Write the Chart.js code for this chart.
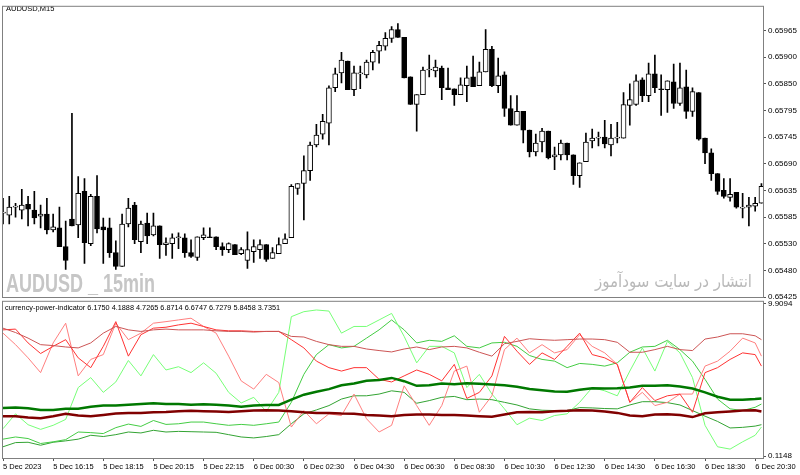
<!DOCTYPE html>
<html>
<head>
<meta charset="utf-8">
<script src="https://cdn.jsdelivr.net/npm/chart.js@4.4.0/dist/chart.umd.min.js"></script>
<style>
  html, body { margin: 0; padding: 0; background: #fff; width: 800px; height: 475px; overflow: hidden; }
  #priceBox { position: absolute; left: 0; top: 0; }
  #powerBox { position: absolute; left: 0; top: 295px; }
</style>
</head>
<body>
<canvas id="priceBox" width="800" height="305"></canvas>
<canvas id="powerBox" width="800" height="180"></canvas>
<script>
// AUDUSD M15 candles, one per bar, oldest first
var openPrice = [
  0.65595, 0.65591, 0.65607, 0.65601, 0.65613, 0.65601, 0.65589, 0.65593, 0.65561, 0.65565,
  0.65527, 0.65583, 0.65571, 0.65639, 0.65533, 0.65629, 0.65567, 0.65565, 0.65515, 0.65487,
  0.65573, 0.65611, 0.65537, 0.65575, 0.65551, 0.65569, 0.65531, 0.65533, 0.65545, 0.65545,
  0.65515, 0.65505, 0.65545, 0.65547, 0.65547, 0.65527, 0.65521, 0.65531, 0.65513, 0.65499,
  0.65517, 0.65521, 0.65531, 0.65503, 0.65513, 0.65533, 0.65545, 0.65645, 0.65655, 0.65681,
  0.65733, 0.65755, 0.65777, 0.65849, 0.65879, 0.65903, 0.65845, 0.65877, 0.65875, 0.65901,
  0.65923, 0.65933, 0.65949, 0.65967, 0.65951, 0.65871, 0.65815, 0.65835, 0.65885, 0.65883,
  0.65889, 0.65849, 0.65847, 0.65835, 0.65853, 0.65871, 0.65853, 0.65881, 0.65927, 0.65853,
  0.65875, 0.65807, 0.65773, 0.65801, 0.65763, 0.65719, 0.65739, 0.65761, 0.65709, 0.65713,
  0.65737, 0.65713, 0.65671, 0.65699, 0.65741, 0.65747, 0.65749, 0.65733, 0.65747, 0.65747,
  0.65813, 0.65815, 0.65865, 0.65833, 0.65877, 0.65847, 0.65845, 0.65861, 0.65817, 0.65851,
  0.65801, 0.65839, 0.65747, 0.65717, 0.65675, 0.65641, 0.65627, 0.65637, 0.65605, 0.65607,
  0.65609, 0.65615
];
var highPrice = [
  0.65625, 0.65629, 0.65615, 0.65643, 0.65629, 0.65639, 0.65611, 0.65625, 0.65593, 0.65607,
  0.65579, 0.65797, 0.65669, 0.65665, 0.65633, 0.65671, 0.65585, 0.65585, 0.65539, 0.65593,
  0.65625, 0.65617, 0.65579, 0.65595, 0.65595, 0.65569, 0.65545, 0.65553, 0.65555, 0.65553,
  0.65541, 0.65547, 0.65565, 0.65565, 0.65547, 0.65535, 0.65535, 0.65531, 0.65525, 0.65557,
  0.65541, 0.65541, 0.65531, 0.65525, 0.65545, 0.65553, 0.65653, 0.65655, 0.65711, 0.65739,
  0.65775, 0.65795, 0.65853, 0.65889, 0.65921, 0.65903, 0.65893, 0.65893, 0.65905, 0.65925,
  0.65943, 0.65961, 0.65973, 0.65979, 0.65951, 0.65871, 0.65835, 0.65891, 0.65915, 0.65905,
  0.65893, 0.65889, 0.65847, 0.65869, 0.65893, 0.65913, 0.65901, 0.65967, 0.65933, 0.65909,
  0.65881, 0.65833, 0.65833, 0.65801, 0.65763, 0.65755, 0.65767, 0.65761, 0.65729, 0.65743,
  0.65737, 0.65713, 0.65697, 0.65757, 0.65765, 0.65759, 0.65783, 0.65775, 0.65779, 0.65839,
  0.65857, 0.65875, 0.65869, 0.65899, 0.65915, 0.65875, 0.65863, 0.65897, 0.65899, 0.65885,
  0.65849, 0.65839, 0.65747, 0.65725, 0.65675, 0.65665, 0.65665, 0.65637, 0.65635, 0.65627,
  0.65627, 0.65655
];
var lowPrice = [
  0.65573, 0.65573, 0.65587, 0.65583, 0.65569, 0.65573, 0.65565, 0.65553, 0.65557, 0.65527,
  0.65481, 0.65569, 0.65545, 0.65493, 0.65529, 0.65555, 0.65493, 0.65505, 0.65481, 0.65487,
  0.65567, 0.65533, 0.65515, 0.65533, 0.65549, 0.65503, 0.65509, 0.65503, 0.65523, 0.65505,
  0.65505, 0.65499, 0.65541, 0.65545, 0.65521, 0.65509, 0.65515, 0.65511, 0.65511, 0.65483,
  0.65495, 0.65503, 0.65497, 0.65503, 0.65513, 0.65533, 0.65545, 0.65633, 0.65581, 0.65661,
  0.65729, 0.65745, 0.65733, 0.65841, 0.65859, 0.65845, 0.65833, 0.65847, 0.65869, 0.65885,
  0.65899, 0.65925, 0.65941, 0.65951, 0.65869, 0.65815, 0.65761, 0.65835, 0.65871, 0.65871,
  0.65825, 0.65845, 0.65813, 0.65835, 0.65821, 0.65851, 0.65853, 0.65881, 0.65851, 0.65839,
  0.65791, 0.65773, 0.65773, 0.65737, 0.65709, 0.65711, 0.65719, 0.65705, 0.65683, 0.65703,
  0.65703, 0.65653, 0.65647, 0.65699, 0.65727, 0.65731, 0.65727, 0.65711, 0.65737, 0.65747,
  0.65773, 0.65813, 0.65821, 0.65821, 0.65839, 0.65793, 0.65799, 0.65807, 0.65813, 0.65787,
  0.65791, 0.65743, 0.65695, 0.65661, 0.65633, 0.65625, 0.65619, 0.65605, 0.65585, 0.65569,
  0.65599, 0.65615
];
var closePrice = [
  0.65596, 0.65607, 0.65607, 0.65611, 0.65603, 0.65585, 0.65593, 0.65561, 0.65567, 0.65527,
  0.65499, 0.65569, 0.65635, 0.65535, 0.65629, 0.65563, 0.65561, 0.65515, 0.65487, 0.65573,
  0.65605, 0.65541, 0.65573, 0.65549, 0.65569, 0.65531, 0.65535, 0.65545, 0.65545, 0.65515,
  0.65507, 0.65547, 0.65551, 0.65545, 0.65527, 0.65521, 0.65533, 0.65511, 0.65521, 0.65521,
  0.65527, 0.65531, 0.65501, 0.65515, 0.65531, 0.65543, 0.65649, 0.65655, 0.65681, 0.65733,
  0.65753, 0.65781, 0.65849, 0.65877, 0.65905, 0.65845, 0.65879, 0.65877, 0.65901, 0.65921,
  0.65935, 0.65949, 0.65967, 0.65951, 0.65869, 0.65815, 0.65835, 0.65885, 0.65885, 0.65891,
  0.65849, 0.65845, 0.65835, 0.65855, 0.65869, 0.65851, 0.65881, 0.65927, 0.65853, 0.65873,
  0.65807, 0.65773, 0.65801, 0.65763, 0.65719, 0.65737, 0.65761, 0.65707, 0.65713, 0.65737,
  0.65713, 0.65671, 0.65697, 0.65739, 0.65747, 0.65747, 0.65735, 0.65747, 0.65747, 0.65815,
  0.65825, 0.65863, 0.65833, 0.65877, 0.65849, 0.65845, 0.65863, 0.65817, 0.65849, 0.65801,
  0.65841, 0.65745, 0.65717, 0.65675, 0.65639, 0.65629, 0.65633, 0.65607, 0.65605, 0.65611,
  0.65615, 0.65649
];

// price scale labels as printed by the terminal (top to bottom)
var priceLabels = ['0.65965', '0.65900', '0.65850', '0.65795', '0.65745', '0.65690',
                   '0.65635', '0.65585', '0.65530', '0.65480', '0.65425'];

// time axis: bar index of each label and its text
var timeTickBars = [0, 8, 16, 24, 32, 40, 48, 56, 64, 72, 80, 88, 96, 104, 112, 120];
var timeLabels = ['5 Dec 2023', '5 Dec 16:15', '5 Dec 18:15', '5 Dec 20:15', '5 Dec 22:15',
                  '6 Dec 00:30', '6 Dec 02:30', '6 Dec 04:30', '6 Dec 06:30', '6 Dec 08:30',
                  '6 Dec 10:30', '6 Dec 12:30', '6 Dec 14:30', '6 Dec 16:30', '6 Dec 18:30',
                  '6 Dec 20:30'];

// currency power indicator, sampled every second bar
var powerBars = [0, 2, 4, 6, 8, 10, 12, 14, 16, 18, 20, 22, 24, 26, 28, 30, 32, 34, 36, 38,
                 40, 42, 44, 46, 48, 50, 52, 54, 56, 58, 60, 62, 64, 66, 68, 70, 72, 74, 76, 78,
                 80, 82, 84, 86, 88, 90, 92, 94, 96, 98, 100, 102, 104, 106, 108, 110, 112, 114,
                 116, 118, 120, 121];
var powerBrown = [8.34,8.06,7.70,7.28,7.22,7.13,7.07,7.39,8.02,8.45,8.23,8.13,8.23,8.28,8.23,8.23,
  8.23,8.17,8.13,8.13,8.09,8.13,8.13,7.81,7.77,7.49,7.28,7.17,7.17,7.00,6.90,6.81,
  7.00,7.13,6.96,7.13,7.17,7.07,6.79,6.54,7.34,7.49,7.66,7.60,7.56,7.60,7.64,7.64,
  7.60,7.43,6.79,6.79,6.96,7.17,6.96,6.90,7.64,7.77,7.98,7.98,7.85,7.60];
var powerRed = [8.23,8.28,7.39,6.71,7.17,7.60,6.43,5.80,7.17,8.76,6.54,7.92,8.34,8.40,8.55,8.66,
  8.45,8.23,8.17,8.17,8.13,8.13,8.13,7.60,7.07,6.22,5.80,5.58,5.80,5.80,5.05,4.88,
  5.27,5.65,5.37,4.95,6.01,3.82,4.21,5.27,7.81,6.86,6.01,6.75,6.33,7.17,8.02,6.64,
  6.43,6.01,3.57,4.52,3.68,3.99,4.10,2.93,5.48,5.80,6.33,6.75,6.64,5.90];
var powerSalmon = [8.02,7.28,6.43,5.48,7.39,8.66,5.27,6.33,6.64,8.66,7.60,8.02,8.66,8.76,8.87,8.98,
  8.45,8.02,6.54,4.95,4.42,5.37,4.84,1.98,3.04,2.19,2.83,2.72,4.10,2.51,1.66,2.09,
  4.63,3.36,2.09,3.36,5.58,5.90,2.93,3.99,6.96,7.70,6.75,7.28,6.75,6.96,7.92,7.17,
  6.75,6.01,3.57,4.21,3.36,3.57,4.10,4.10,5.90,6.22,6.86,7.70,7.39,6.54];
var powerLime = [1.87,2.83,2.13,1.83,2.09,2.47,4.52,5.16,4.21,4.88,6.26,5.27,6.64,5.65,5.86,5.48,
  6.11,5.44,4.21,3.53,3.89,2.98,4.21,9.08,9.40,9.51,9.44,8.02,8.45,8.45,8.87,9.29,
  7.81,6.11,7.17,7.17,6.75,4.52,5.37,4.10,3.15,2.13,2.55,2.40,2.72,2.83,3.57,4.52,
  4.31,3.99,5.58,7.07,5.58,7.49,6.75,5.16,2.09,0.71,0.56,1.03,1.45,1.98];
var powerGreen = [1.20,1.34,1.24,0.92,1.03,1.17,1.66,1.62,1.56,1.94,2.17,2.02,2.40,2.15,2.19,2.30,
  2.30,2.19,2.09,2.15,2.09,2.19,2.30,3.57,5.37,6.64,7.28,7.07,7.17,7.70,8.23,8.87,
  8.23,7.39,7.56,7.49,7.85,7.17,7.07,7.39,7.43,7.17,6.58,6.33,6.22,5.80,6.07,6.01,
  5.90,6.11,6.79,7.13,7.17,7.56,6.96,6.22,5.05,3.78,3.15,3.04,3.25,3.46];
var powerOlive = [0.71,0.98,1.00,0.81,1.00,1.09,1.20,1.45,1.37,1.49,1.66,1.60,1.77,1.66,1.70,1.68,
  1.66,1.64,1.49,1.34,1.28,1.37,1.49,2.19,2.83,3.08,3.36,3.78,3.99,3.99,4.10,4.31,
  4.21,3.51,3.68,3.89,3.95,3.74,3.78,3.74,3.57,3.40,3.15,3.06,3.04,3.04,3.23,3.21,
  3.17,3.15,3.40,3.61,3.61,3.55,3.40,3.04,2.68,2.34,1.92,1.96,2.04,2.13];
var powerGreenAvg = [3.21,3.23,3.19,3.08,3.08,3.15,3.15,3.29,3.36,3.36,3.42,3.46,3.51,3.46,3.46,3.42,
  3.44,3.42,3.36,3.29,3.36,3.40,3.40,3.74,4.06,4.25,4.42,4.67,4.78,4.95,5.01,5.14,
  4.93,4.63,4.67,4.78,4.74,4.80,4.76,4.71,4.67,4.57,4.42,4.35,4.27,4.25,4.38,4.48,
  4.46,4.48,4.52,4.63,4.63,4.67,4.59,4.46,4.21,3.93,3.74,3.74,3.78,3.82];
var powerRedAvg = [2.68,2.68,2.59,2.55,2.68,2.83,2.72,2.68,2.76,2.85,2.89,2.89,2.93,2.95,3.00,3.02,
  3.00,2.98,2.95,3.00,3.04,3.06,3.04,3.00,2.93,2.89,2.89,2.85,2.83,2.76,2.72,2.68,
  2.76,2.79,2.79,2.76,2.76,2.72,2.68,2.64,2.79,2.93,2.95,2.93,3.00,3.02,3.06,3.04,
  2.98,2.89,2.72,2.68,2.79,2.81,2.76,2.62,2.87,2.93,2.98,3.04,3.06,2.98];
var powerValues = ['6.1750', '4.1888', '4.7265', '6.8714', '6.6747', '6.7279', '5.8458', '3.7351'];

var FONT = 'Liberation Sans';
var BAR_MAX = 121.25;   // right edge of the plot in bar units

function frame(color) {
  return {
    id: 'frame',
    afterDraw: function(chart) {
      var a = chart.chartArea, c = chart.ctx;
      c.save();
      c.strokeStyle = color;
      c.lineWidth = 1;
      c.strokeRect(a.left - 0.5, a.top - 0.5, a.right - a.left + 1, a.bottom - a.top + 1);
      c.restore();
    }
  };
}

// draw text squeezed or stretched to a given width
function fitText(c, text, x, y, width) {
  var w = c.measureText(text).width;
  c.save();
  c.translate(x, y);
  c.scale(width / w, 1);
  c.fillText(text, 0, 0);
  c.restore();
}

var priceTexts = {
  id: 'priceTexts',
  beforeDatasetsDraw: function(chart) {
    var c = chart.ctx;
    c.save();
    c.textBaseline = 'alphabetic';
    c.fillStyle = '#c6c6c6';
    c.font = 'bold 25px "Liberation Sans"';
    fitText(c, 'AUDUSD _ 15min', 6, 292, 149);
    c.fillStyle = '#b9b9b9';
    c.font = '17px "DejaVu Sans"';
    c.direction = 'rtl';
    c.textAlign = 'left';
    fitText(c, 'انتشار در سایت سودآموز', 595, 287, 157);
    c.restore();
  },
  afterDraw: function(chart) {
    var c = chart.ctx;
    c.save();
    c.fillStyle = '#000';
    c.font = '7.5px "' + FONT + '"';
    c.fillText('AUDUSD,M15', 6, 11);
    c.restore();
  }
};

var powerTexts = {
  id: 'powerTexts',
  afterDraw: function(chart) {
    var c = chart.ctx;
    c.save();
    c.fillStyle = '#000';
    c.font = '7.3px "' + FONT + '"';
    c.fillText('currency-power-indicator ' + powerValues.join(' '), 5, 15);
    c.restore();
  }
};

var candleBodies = openPrice.map(function(o, i) { return { x: i, y: [o, closePrice[i]] }; });
var candleWicks = lowPrice.map(function(l, i) { return { x: i, y: [l, highPrice[i]] }; });

new Chart(document.getElementById('priceBox'), {
  type: 'bar',
  data: {
    datasets: [{
      data: candleBodies,
      barThickness: 5,
      minBarLength: 1,
      grouped: false,
      borderWidth: 1,
      borderSkipped: false,
      borderColor: '#000',
      backgroundColor: function(ctx) {
        var i = ctx.dataIndex;
        return closePrice[i] >= openPrice[i] ? '#fff' : '#000';
      }
    }, {
      data: candleWicks,
      barThickness: 1,
      grouped: false,
      borderWidth: 0,
      backgroundColor: '#000'
    }]
  },
  options: {
    responsive: false,
    animation: false,
    events: [],
    layout: { padding: { left: 3, top: 3, right: 0, bottom: 8 } },
    plugins: { legend: { display: false }, tooltip: { enabled: false } },
    scales: {
      x: { type: 'linear', offset: false, min: 0, max: BAR_MAX, display: false },
      y: {
        position: 'right',
        min: 0.65425,
        max: 0.66013,
        afterBuildTicks: function(s) {
          // the terminal spaces its price grid evenly and prints rounded values
          s.ticks = priceLabels.map(function(t, k) { return { value: 0.65965 - k * 0.00054 }; });
        },
        afterFit: function(s) { s.width = 37; },
        ticks: {
          autoSkip: false,
          padding: 2,
          color: '#000',
          font: { family: FONT, size: 8 },
          callback: function(v, i) { return priceLabels[i]; }
        },
        grid: { drawOnChartArea: false, tickLength: 3, color: '#555' },
        border: { display: false }
      }
    }
  },
  plugins: [priceTexts, frame('#808080')]
});

function powerLine(values, color, width) {
  return {
    data: values.map(function(v, i) { return { x: powerBars[i], y: v }; }),
    borderColor: color,
    borderWidth: width,
    pointRadius: 0,
    tension: 0,
    fill: false
  };
}

new Chart(document.getElementById('powerBox'), {
  type: 'line',
  data: {
    datasets: [
      powerLine(powerGreenAvg, '#007800', 2.5),
      powerLine(powerRedAvg, '#800000', 2.5),
      powerLine(powerBrown, '#cc5555', 1),
      powerLine(powerRed, '#ff3333', 1),
      powerLine(powerSalmon, '#ff7f7f', 1),
      powerLine(powerLime, '#77ff77', 1),
      powerLine(powerGreen, '#44cc44', 1),
      powerLine(powerOlive, '#33a333', 1)
    ]
  },
  options: {
    responsive: false,
    animation: false,
    events: [],
    layout: { padding: { left: 3, top: 5, right: 0, bottom: 0 } },
    plugins: { legend: { display: false }, tooltip: { enabled: false } },
    scales: {
      x: {
        type: 'linear',
        min: 0,
        max: BAR_MAX,
        afterBuildTicks: function(s) {
          s.ticks = timeTickBars.map(function(b) { return { value: b }; });
        },
        afterFit: function(s) { s.height = 17; },
        ticks: {
          autoSkip: false,
          maxRotation: 0,
          align: 'start',
          padding: 1,
          color: '#000',
          font: { family: FONT, size: 7.5 },
          callback: function(v, i) { return timeLabels[i]; }
        },
        grid: { drawOnChartArea: false, tickLength: 3, color: '#555' },
        border: { display: false }
      },
      y: {
        position: 'right',
        min: -0.012,
        max: 10.036,
        afterBuildTicks: function(s) { s.ticks = [{ value: 9.9094 }, { value: 0.1148 }]; },
        afterFit: function(s) { s.width = 37; },
        ticks: {
          padding: 2,
          color: '#000',
          font: { family: FONT, size: 8 },
          callback: function(v) { return v.toFixed(4); }
        },
        grid: { drawOnChartArea: false, tickLength: 3, color: '#555' },
        border: { display: false }
      }
    }
  },
  plugins: [powerTexts, frame('#808080')]
});
</script>
</body>
</html>
